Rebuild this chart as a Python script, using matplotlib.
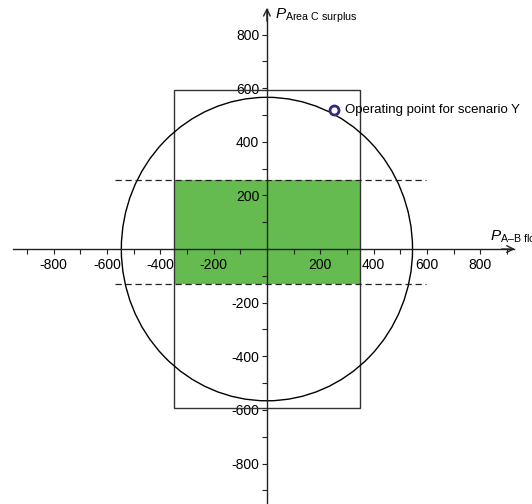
import matplotlib
matplotlib.use("Agg")
import matplotlib.pyplot as plt
from matplotlib.patches import Rectangle, Ellipse
from matplotlib.ticker import FixedLocator

plt.rcParams['font.family'] = ['Liberation Sans', 'DejaVu Sans']
plt.rcParams['mathtext.fontset'] = 'custom'
plt.rcParams['mathtext.rm'] = 'Liberation Sans'
plt.rcParams['mathtext.it'] = 'Liberation Sans:italic'
plt.rcParams['axes.unicode_minus'] = False

# Feasible region limits (MW)
flow_limits = [-350, 350]          # A-B flow range of the box
surplus_limits = [-593, 593]       # Area C surplus range of the box
band_limits = [-131, 257]          # dashed band on surplus
band_extent = [-570, 596]          # horizontal extent of dashed lines
ellipse_semi = [546, 566]          # capability circle semi-axes
operating_point = [251, 519]
operating_label = "Operating point for scenario Y"

major_ticks = [-800, -600, -400, -200, 200, 400, 600, 800]
minor_ticks = [-900, -700, -500, -300, -100, 100, 300, 500, 700, 900]

fig = plt.figure(figsize=(5.32, 5.04), dpi=100)
ax = fig.add_axes([0, 0, 1, 1])
ax.set_xlim(-1001, 994)
ax.set_ylim(-951, 929)

# shaded band inside the box
ax.add_patch(Rectangle((flow_limits[0], band_limits[0]),
                       flow_limits[1] - flow_limits[0],
                       band_limits[1] - band_limits[0],
                       facecolor='#65bb50', edgecolor='none', zorder=1))
# box outline
ax.add_patch(Rectangle((flow_limits[0], surplus_limits[0]),
                       flow_limits[1] - flow_limits[0],
                       surplus_limits[1] - surplus_limits[0],
                       facecolor='none', edgecolor='#333333', lw=1.0, zorder=2))
# capability circle
ax.add_patch(Ellipse((0, 0), 2 * ellipse_semi[0], 2 * ellipse_semi[1],
                     facecolor='none', edgecolor='black', lw=1.0, zorder=2))
# dashed band limits
for yv in band_limits:
    ax.plot(band_extent, [yv, yv], color='#222222', lw=0.9,
            dashes=(5, 3), zorder=3)

# operating point
ax.plot([operating_point[0]], [operating_point[1]], 'o', mfc='white',
        mec='#2e2a8a', mew=2.0, ms=6.5, zorder=5)
ax.text(292, operating_point[1], operating_label, fontsize=9.5,
        va='center', ha='left', zorder=5)

# axes through the origin
for side in ['top', 'right']:
    ax.spines[side].set_visible(False)
ax.spines['left'].set_position(('data', 0))
ax.spines['bottom'].set_position(('data', 0))
ax.spines['bottom'].set_bounds(-953, 926)
ax.spines['left'].set_bounds(-951, 895)
for side in ['left', 'bottom']:
    ax.spines[side].set_color('#222222')
    ax.spines[side].set_linewidth(1.0)
    ax.spines[side].set_zorder(4)

ax.xaxis.set_major_locator(FixedLocator(major_ticks))
ax.yaxis.set_major_locator(FixedLocator(major_ticks))
ax.xaxis.set_minor_locator(FixedLocator(minor_ticks))
ax.yaxis.set_minor_locator(FixedLocator(minor_ticks[:-1]))
ax.tick_params(which='both', direction='out', length=3.5, width=0.8,
               color='#222222', labelsize=10, pad=3)
ax.tick_params(axis='y', pad=2)

# arrow heads
ax.annotate('', xy=(930, 0), xytext=(880, 0),
            arrowprops=dict(arrowstyle='->', lw=1.0, color='#222222',
                            mutation_scale=12, shrinkA=0, shrinkB=0), zorder=4)
ax.annotate('', xy=(0, 900), xytext=(0, 850),
            arrowprops=dict(arrowstyle='->', lw=1.0, color='#222222',
                            mutation_scale=12, shrinkA=0, shrinkB=0), zorder=4)

# axis titles
ax.text(30, 858, r'$P_{\mathrm{Area\ C\ surplus}}$', fontsize=11,
        ha='left', va='baseline')
ax.text(836, 30, r'$P_{\mathrm{A–B\ flow}}$', fontsize=11,
        ha='left', va='baseline', clip_on=False)

fig.savefig('out.png', dpi=100)
